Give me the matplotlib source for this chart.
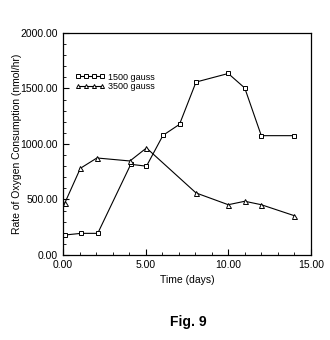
import matplotlib
matplotlib.use("Agg")
import matplotlib.pyplot as plt
from matplotlib.ticker import MultipleLocator, FormatStrFormatter

### Data
days_1500 = [0.1, 1.1, 2.1, 4.1, 5.05, 6.05, 7.05, 8.05, 10.0, 11.0, 12.0, 14.0]
rate_1500 = [180, 195, 195, 817, 800, 1078, 1177, 1558, 1635, 1504, 1075, 1075]
days_3500 = [0.1, 1.05, 2.05, 4.05, 5.05, 8.05, 10.0, 11.0, 12.0, 14.0]
rate_3500 = [466, 781, 874, 847, 964, 559, 453, 484, 453, 354]

plt.rcParams['font.family'] = ['Liberation Sans', 'DejaVu Sans']

fig = plt.figure(figsize=(3.3, 3.4), dpi=100)
ax = fig.add_axes([0.191, 0.25, 0.751, 0.653])

ax.plot(days_1500, rate_1500, color="black", lw=0.8, marker="s", ms=3.2,
        mfc="white", mew=0.7, label="1500 gauss")
ax.plot(days_3500, rate_3500, color="black", lw=0.8, marker="^", ms=3.6,
        mfc="white", mew=0.7, label="3500 gauss")

ax.set_xlim(0, 15)
ax.set_ylim(0, 2000)
ax.xaxis.set_major_locator(MultipleLocator(5))
ax.xaxis.set_minor_locator(MultipleLocator(1))
ax.yaxis.set_major_locator(MultipleLocator(500))
ax.yaxis.set_minor_locator(MultipleLocator(100))
ax.xaxis.set_major_formatter(FormatStrFormatter("%.2f"))
ax.yaxis.set_major_formatter(FormatStrFormatter("%.2f"))
ax.tick_params(which="both", direction="in", top=False, right=False, labelsize=7.5)
ax.tick_params(which="major", length=4, width=0.8)
ax.tick_params(which="minor", length=2, width=0.6)
for s in ax.spines.values():
    s.set_linewidth(0.9)

ax.set_xlabel("Time (days)", fontsize=7.5, labelpad=4)
ax.set_ylabel("Rate of Oxygen Consumption (nmol/hr)", fontsize=7.5)
ax.yaxis.set_label_coords(-0.165, 0.5)

ax.legend(loc="upper left", bbox_to_anchor=(0.025, 0.85), frameon=False,
          fontsize=6.5, numpoints=4, handlelength=3.2, handletextpad=0.4,
          labelspacing=0.05, markerscale=0.8, borderpad=0.2)

fig.text(0.57, 0.053, "Fig. 9", ha="center", va="center", fontsize=10,
         fontweight="bold")

fig.savefig("out.png", dpi=100)
